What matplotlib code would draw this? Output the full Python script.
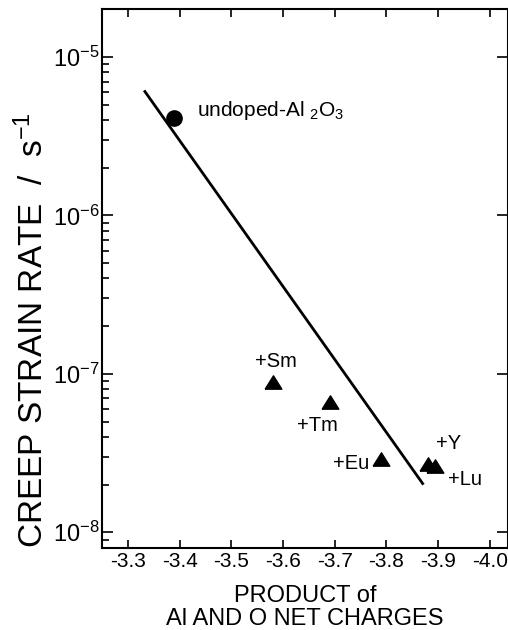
import numpy as np
import matplotlib
matplotlib.use('Agg')
from matplotlib import pyplot as plt

plt.rcParams['font.family'] = ['Liberation Sans', 'DejaVu Sans']
plt.rcParams['mathtext.fontset'] = 'custom'
plt.rcParams['mathtext.rm'] = 'Liberation Sans'
plt.rcParams['mathtext.it'] = 'Liberation Sans'
plt.rcParams['mathtext.default'] = 'regular'

# Data
undoped_x = [-3.39]
undoped_y = [4.13e-6]

dopants = ['+Sm', '+Tm', '+Eu', '+Y', '+Lu']
doped_x = [-3.58, -3.69, -3.79, -3.88, -3.893]
doped_y = [8.9e-8, 6.6e-8, 2.9e-8, 2.7e-8, 2.63e-8]

fit_x = [-3.333, -3.870]
fit_y = [6.05e-6, 2.03e-8]

x_ticks = [-3.3, -3.4, -3.5, -3.6, -3.7, -3.8, -3.9, -4.0]
y_decades = [-8, -7, -6, -5]

# label offsets (points, baseline) and alignment for each dopant
label_off = {'+Sm': ((2, 10.5), 'center'), '+Tm': ((-9, -20.5), 'center'), '+Eu': ((-9, -7), 'right'),
             '+Y': ((6, 11), 'left'), '+Lu': ((10, -14), 'left')}

fig = plt.figure(figsize=(5.08, 6.30), dpi=100)
ax = fig.add_axes([0.2008, 0.130, 0.7992, 0.855])

# triangle marker a bit flatter than the default one
tri = [(-1, -0.8), (1, -0.8), (0, 0.8), (-1, -0.8)]

ax.plot(fit_x, fit_y, color='black', linewidth=2.0)
ax.plot(undoped_x, undoped_y, 'o', color='black', markersize=11)
ax.plot(doped_x, doped_y, linestyle='none', marker=tri, color='black', markersize=12)

ax.annotate('undoped-Al $_2$O$_3$', (undoped_x[0], undoped_y[0]), xytext=(16, 1),
            textcoords='offset points', ha='left', va='baseline', fontsize=15)
for name, xx, yy in zip(dopants, doped_x, doped_y):
    off, ha = label_off[name]
    ax.annotate(name, (xx, yy), xytext=off, textcoords='offset points', ha=ha, va='baseline', fontsize=14.5)

ax.set_yscale('log')
ax.set_xlim(-3.25, -4.035)
ax.set_ylim(10 ** -8.1, 10 ** -4.7)
ax.set_xticks(x_ticks)
ax.set_xticklabels(['%.1f' % v for v in x_ticks])

# major and minor ticks on the log axis
ax.set_yticks([10.0 ** d for d in y_decades])
ax.set_yticklabels(['$10^{-%d}$' % abs(d) for d in y_decades])
minor = [m * 10.0 ** d for d in range(-9, -4) for m in range(2, 10)]
minor = [v for v in minor if 10 ** -8.1 < v < 10 ** -4.7]
ax.set_yticks(minor, minor=True)
ax.set_yticklabels([], minor=True)

ax.tick_params(axis='x', which='major', direction='in', top=True, length=6, width=1.2, labelsize=15, pad=3)
ax.tick_params(axis='y', which='major', direction='in', left=True, right=True, length=8, width=1.2,
               labelsize=17, pad=2)
ax.tick_params(axis='y', which='minor', direction='in', left=True, right=False, length=5, width=1.2)

for s in ax.spines.values():
    s.set_linewidth(1.5)

ax.set_xlabel('PRODUCT of\nAl AND O NET CHARGES', fontsize=17, linespacing=1.05, labelpad=10)
ax.set_ylabel('CREEP STRAIN RATE  /  s$^{-1}$', fontsize=24)
ax.yaxis.label.set_va('center')
ax.yaxis.set_label_coords(-0.17, 0.405)

plt.savefig('out.png', dpi=100)
